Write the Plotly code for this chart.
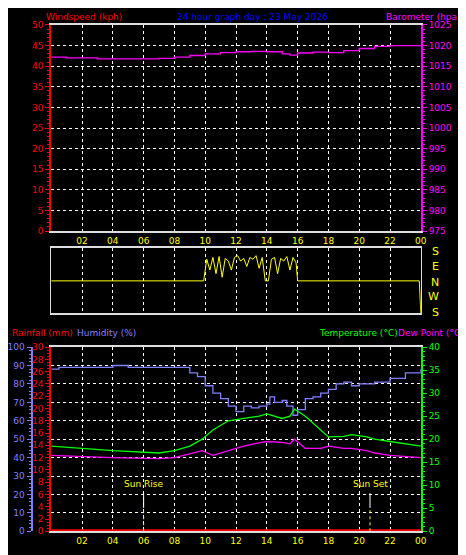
import plotly.graph_objects as go

hours_wind = [0, 24]
wind = [0, 0]

hours_baro = [0, 1, 2, 3, 5, 7, 8, 9, 10, 11, 12, 13, 14, 15, 15.5, 16, 17, 18, 19, 20, 21, 22, 23, 24]
baro = [1017.2, 1017.0, 1017.0, 1016.8, 1016.8, 1016.9, 1017.2, 1017.6, 1018.0, 1018.3, 1018.5, 1018.6, 1018.5, 1018.0, 1017.7, 1018.2, 1018.4, 1018.3, 1018.8, 1019.3, 1019.8, 1020.0, 1020.0, 1020.1]

hours_dir = [0, 9.9, 10.1, 10.3, 10.5, 10.7, 10.9, 11.1, 11.3, 11.5, 11.7, 11.9, 12.1, 12.3, 12.5, 12.7, 12.9, 13.1, 13.3, 13.5, 13.7, 13.9, 14.1, 14.3, 14.5, 14.7, 14.9, 15.1, 15.3, 15.5, 15.7, 15.9, 16.0, 23.9, 24]
wdir = [0, 0, 120, 60, 130, 40, 135, 20, 125, 110, 60, 130, 140, 110, 125, 80, 130, 120, 140, 70, 130, 0, 0, 120, 130, 40, 125, 110, 135, 60, 130, 100, 0, 0, -180]

hours_hum = [0, 0.5, 2, 4, 5, 6, 8.5, 9, 9.5, 10, 10.5, 11, 11.5, 12, 12.5, 13, 13.5, 14, 14.2, 14.5, 15, 15.3, 15.7, 16, 16.5, 17, 17.5, 18, 18.5, 19, 19.5, 20, 21, 22, 23, 24]
humidity = [88, 89, 89, 90, 89, 89, 89, 86, 84, 79, 75, 72, 68, 65, 68, 67, 68, 69, 73, 70, 71, 68, 63, 66, 72, 73, 75, 77, 80, 81, 79, 80, 81, 83, 86, 88]

hours_temp = [0, 2, 4, 7, 8, 9, 9.8, 10.5, 11.5, 12.5, 13.5, 14, 15, 15.5, 15.8, 16.5, 17.5, 18, 19, 19.5, 20.5, 21, 22, 24]
temp = [18.5, 18.0, 17.5, 17.0, 17.5, 18.5, 20.0, 22.0, 24.0, 24.5, 25.0, 25.5, 24.5, 25.0, 26.5, 25.0, 22.0, 20.5, 20.6, 21.0, 20.5, 20.0, 19.5, 18.5]
dew = [16.5, 16.2, 16.0, 15.8, 16.0, 16.8, 17.5, 16.5, 17.5, 18.5, 19.2, 19.5, 19.3, 19.0, 20.0, 18.0, 18.0, 18.5, 18.0, 18.0, 17.5, 17.0, 16.5, 16.0]

hours_rain = [0, 24]
rain = [0, 0]

sun_events = ["Sun Rise", "Sun Set"]
sun_hours = [6.0, 20.7]

xticks = list(range(2, 25, 2))
xtext = ["%02d" % (h % 24) for h in xticks]

RED, MAG, BLUE, GREEN, YEL, LAV = "#ff0000", "#ff00ff", "#0000ff", "#00ff00", "#ffff00", "#8080ff"
F = "DejaVu Sans"
fig = go.Figure()
fig.add_trace(go.Scatter(x=hours_wind, y=wind, mode="lines", line=dict(color="rgba(0,0,0,0)", width=1), xaxis="x", yaxis="y"))
fig.add_trace(go.Scatter(x=hours_baro, y=baro, mode="lines", line=dict(color=MAG, width=1.3, shape="hv"), xaxis="x", yaxis="y2"))
fig.add_trace(go.Scatter(x=hours_dir, y=wdir, mode="lines", line=dict(color=YEL, width=1), xaxis="x2", yaxis="y3"))
fig.add_trace(go.Scatter(x=hours_rain, y=rain, mode="lines", line=dict(color=RED, width=4), xaxis="x3", yaxis="y4"))
fig.add_trace(go.Scatter(x=hours_hum, y=humidity, mode="lines", line=dict(color=LAV, width=1.3, shape="hv"), xaxis="x3", yaxis="y5"))
fig.add_trace(go.Scatter(x=hours_temp, y=temp, mode="lines", line=dict(color=GREEN, width=1.3), xaxis="x3", yaxis="y6"))
fig.add_trace(go.Scatter(x=hours_temp, y=dew, mode="lines", line=dict(color=MAG, width=1.3), xaxis="x3", yaxis="y6"))

XD = [0.09, 0.897]
grid = dict(showgrid=True, gridcolor="#ffffff", griddash="dot", gridwidth=1)
def xa(domain_anchor, labels):
    return dict(domain=XD, anchor=domain_anchor, range=[0, 24], tickvals=xticks, ticktext=xtext,
                showticklabels=labels, tickfont=dict(color=YEL, size=9, family=F), ticks="",
                showline=True, linecolor="#dddddd", linewidth=2, mirror=True, zeroline=False, **grid)

def ya(color, rng, dtick, **kw):
    d = dict(range=rng, dtick=dtick, tickfont=dict(color=color, size=9, family=F), ticks="outside",
             tickcolor=color, ticklen=4, showline=True, linecolor=color, linewidth=2, zeroline=False,
             minor=dict(ticks="outside", ticklen=2, tickcolor=color, dtick=dtick / 5), showgrid=False)
    d.update(kw)
    return d

fig.update_layout(
    width=466, height=555, margin=dict(l=0, r=0, t=0, b=0),
    paper_bgcolor="black", plot_bgcolor="black", showlegend=False,
    xaxis=xa("y", True), xaxis2=xa("y3", False), xaxis3=xa("y4", True),
    yaxis=ya(RED, [0, 50], 5, domain=[0.6, 0.978], anchor="x", **grid),
    yaxis2=ya(MAG, [975, 1025], 5, overlaying="y", side="right", anchor="x"),
    yaxis3=dict(domain=[0.449, 0.568], anchor="x2", range=[-180, 180], showticklabels=False, showgrid=False,
                zeroline=False, showline=True, linecolor="#dddddd", mirror=True, ticks=""),
    yaxis4=ya(RED, [0, 30], 2, domain=[0.049, 0.387], anchor="x3",
              minor=dict(ticks="outside", ticklen=2, tickcolor=RED, dtick=0.5)),
    yaxis5=ya(LAV, [0, 100], 10, overlaying="y4", side="left", anchor="free", position=0.047, **grid),
    yaxis6=ya(GREEN, [0, 40], 5, overlaying="y4", side="right", anchor="x3"),
)

ann = [
    ("Windspeed (kph)", 0.075, 0.992, RED, "left"),
    ("24 hour graph day : 23 May 2026", 0.53, 0.992, BLUE, "center"),
    ("Barometer (hpa)", 0.99, 0.992, MAG, "right"),
    ("Rainfall (mm)", 0.0, 0.413, RED, "left"),
    ("Humidity (%)", 0.143, 0.413, LAV, "left"),
    ("Temperature (°C)", 0.67, 0.413, GREEN, "left"),
    ("Dew Point (°C)", 0.996, 0.413, MAG, "right"),
]
for t, x, y, c, al in ann:
    fig.add_annotation(text=t, x=x, y=y, xref="paper", yref="paper", xanchor=al, yanchor="middle",
                       showarrow=False, font=dict(color=c, size=9, family=F))
for lbl, y in zip(["S", "E", "N", "W", "S"], [0.562, 0.535, 0.506, 0.479, 0.450]):
    fig.add_annotation(text=lbl, x=0.94, y=y, xref="paper", yref="paper", showarrow=False,
                       font=dict(color=YEL, size=11, family=F))
for lbl, h in zip(sun_events, sun_hours):
    fig.add_shape(type="line", x0=h, x1=h, y0=0, y1=3.8, xref="x3", yref="y4", line=dict(color=YEL, width=1, dash="dot"))
    fig.add_shape(type="line", x0=h, x1=h, y0=3.8, y1=6.2, xref="x3", yref="y4", line=dict(color="white", width=1))
    fig.add_annotation(text=lbl, x=h, y=6.6, xref="x3", yref="y4", yanchor="bottom", showarrow=False,
                       font=dict(color=YEL, size=9, family=F))

fig.write_html("out.html")
